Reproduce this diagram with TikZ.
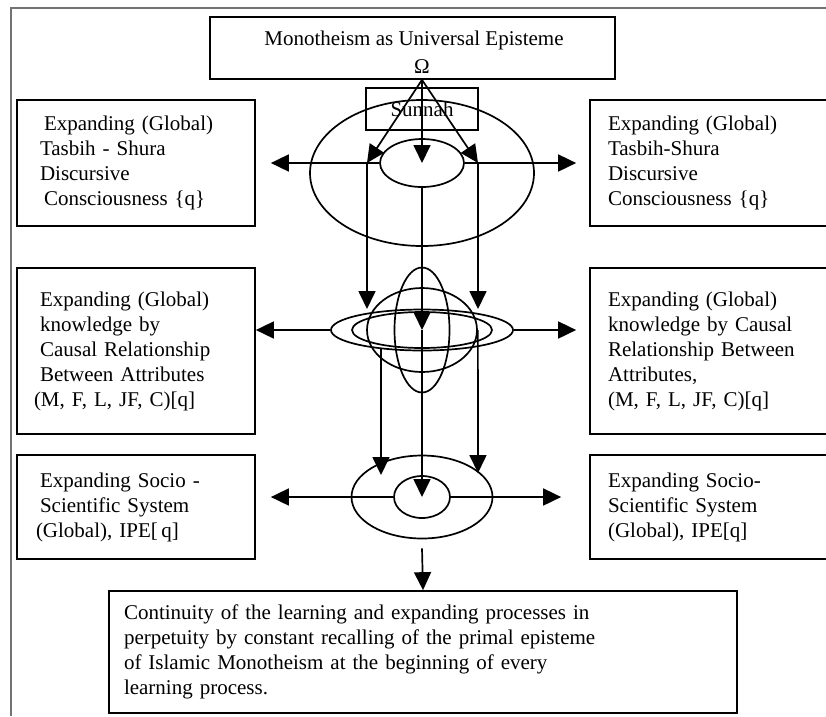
\documentclass[tikz,border=0pt]{standalone}
\usepackage{fontspec}
\setmainfont{Liberation Serif}
\usetikzlibrary{arrows.meta,shapes.geometric}

\begin{document}
\begin{tikzpicture}[
			x=1pt, y=-1pt,
			sidebox/.style={
				draw,
				line width=1.7pt,
				align=left,
				inner xsep=22pt,
				inner ysep=0pt,
				font=\fontsize{21}{25}\selectfont
			},
			ring/.style={
				draw,
				ellipse,
				line width=1.7pt,
				inner sep=0pt
			},
			flow/.style={
				-{Triangle[length=18pt,width=17pt]},
				line width=1.7pt
			}
		]
			\useasboundingbox (0,0) rectangle (826,716);
			\clip (0,0) rectangle (826,716);
			\draw[black!55, line width=1.6pt] (826,8) -- (11,8) -- (11,716);
			
			% top
			\node[sidebox, minimum width=405pt, minimum height=62pt] (episteme) at (412.5,48) {};
			\node[font=\fontsize{21}{25}\selectfont] (title) at (414,40) {Monotheism as Universal Episteme};
			\node[font=\fontsize{21}{25}\selectfont, inner sep=0pt] (omega) at (422,67) {Ω};
			\node[sidebox, inner xsep=0pt, align=center, minimum width=112pt, minimum height=42pt] (sunnah) at (422,109) {\raisebox{-5pt}{Sunnah}};
			
			\node[sidebox, text width=192pt, minimum width=238pt, minimum height=126pt] (tasbihL) at (136,163) {
				\hspace*{4pt}Expanding (Global)\\
				Tasbih - Shura\\
				Discursive\\
				\hspace*{4pt}Consciousness \{q\}
			};
			\node[sidebox, inner xsep=18pt, text width=214pt, minimum width=250pt, minimum height=126pt] (tasbihR) at (715,163) {
				Expanding (Global)\\
				Tasbih-Shura\\
				Discursive\\
				Consciousness \{q\}
			};
			
			\node[sidebox, text width=192pt, minimum width=238pt, minimum height=166pt] (causalL) at (136,351) {
				Expanding (Global)\\
				knowledge by\\
				Causal Relationship\\
				Between Attributes\\
				\hspace*{-6pt}(M, F, L, JF, C)[q]\\[6pt]
			};
			\node[sidebox, inner xsep=18pt, text width=214pt, minimum width=250pt, minimum height=166pt] (causalR) at (715,351) {
				Expanding (Global)\\
				knowledge by Causal\\
				Relationship Between\\
				Attributes,\\
				(M, F, L, JF, C)[q]\\[6pt]
			};
			
			\node[sidebox, text width=192pt, minimum width=238pt, minimum height=104pt] (socioL) at (136,507) {
				Expanding Socio\,\,-\\
				Scientific System\\
				\hspace*{-4pt}(Global), IPE[\,q]
			};
			\node[sidebox, inner xsep=18pt, text width=214pt, minimum width=250pt, minimum height=104pt] (socioR) at (715,507) {
				Expanding Socio-\\
				Scientific System\\
				(Global), IPE[q]
			};
			
			\node[sidebox, inner xsep=15pt, text width=598pt, minimum width=628pt, minimum height=122pt] (closing) at (423,652) {
				Continuity of the learning and expanding processes in\\
				perpetuity by constant recalling of the primal episteme\\
				of Islamic Monotheism at the beginning of every\\
				learning process.
			};
			
			% ellipses
			\node[ring, minimum width=224pt, minimum height=146pt] (outerA) at (422,173) {};
			\node[ring, minimum width=84pt, minimum height=48pt] (innerA) at (422,163) {};
			
			\node[ring, minimum width=55pt, minimum height=125pt] (tallB) at (422,330) {};
			\node[ring, minimum width=110pt, minimum height=84pt] (roundB) at (422,330) {};
			\node[ring, minimum width=182pt, minimum height=41pt] (flatB) at (422,330) {};
			\node[ring, minimum width=140pt, minimum height=36pt] (slimB) at (422,330) {};
			
			\node[ring, minimum width=141pt, minimum height=83pt] (outerC) at (422,497) {};
			\node[ring, minimum width=56pt, minimum height=42pt] (innerC) at (422,497) {};
			
			\coordinate (apex) at (episteme.south -| omega);
			\coordinate (forkL) at (367,163);
			\coordinate (forkR) at (478,163);
			\coordinate (joinL) at (367,309);
			\coordinate (joinR) at (478,309);
			\coordinate (dropL) at (381,349);
			\coordinate (landL) at (381,475);
			\coordinate (landR) at (478,473);
			
			% arrows
			\draw[flow] (apex) -- (forkL);
			\draw[flow] (apex) -- (innerA.center);
			\draw[flow] (apex) -- (forkR);
			\draw[flow, shorten >=15pt] (innerA.west) -- (tasbihL.east);
			\draw[flow, shorten >=13pt] (innerA.east) -- (tasbihR.west |- innerA.east);
			
			\draw[flow] (forkL) -- (joinL);
			\draw[flow] (forkR) -- (joinR);
			\draw[flow] (innerA.south) -- (tallB.center);
			\draw[flow] (flatB.west) -- (causalL.east |- flatB.west);
			\draw[flow, shorten >=13pt] (flatB.east) -- (causalR.west |- flatB.east);
			
			\draw[flow] (dropL) -- (landL);
			\draw[flow] (roundB.east) -- (landR);
			\draw[flow] (tallB.center) -- (innerC.center);
			\draw[flow, shorten >=15pt] (innerC.west) -- (socioL.east |- innerC.west);
			\draw[flow, shorten >=28pt] (innerC.east) -- (socioR.west |- innerC.east);
			\draw[flow] ([yshift=-9pt]outerC.south) -- (closing.north);
			
		\end{tikzpicture}
\end{document}
